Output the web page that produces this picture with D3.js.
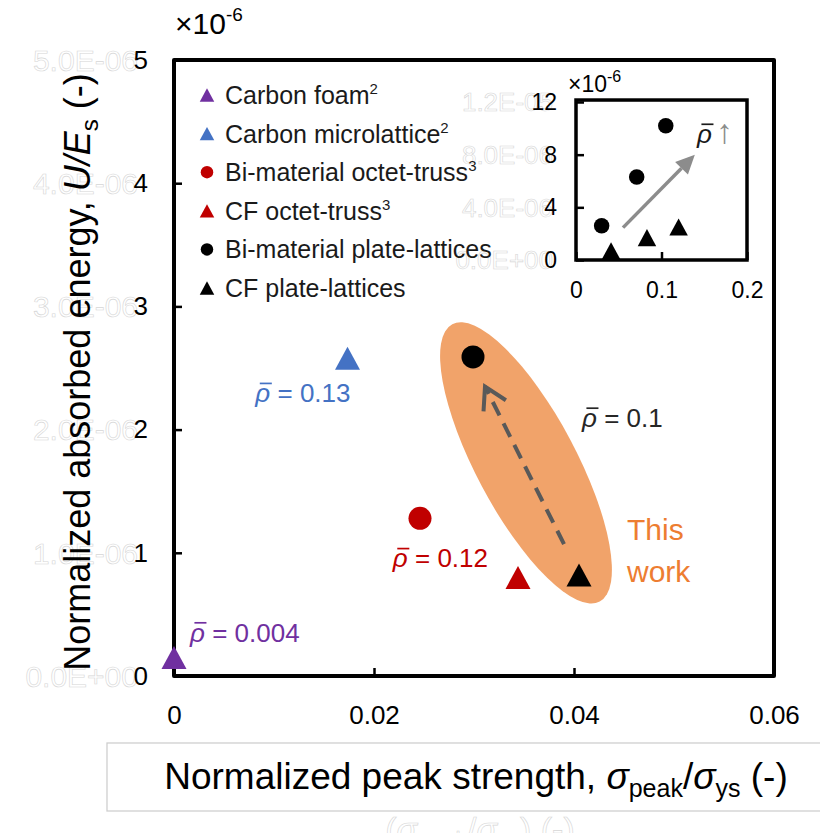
<!DOCTYPE html>
<html>
<head>
<meta charset="utf-8">
<script src="https://cdn.jsdelivr.net/npm/d3@7"></script>
<style>
  body { margin: 0; background: #fff; }
  svg { display: block; }
  text { font-family: "Liberation Sans", Arial, sans-serif; }
</style>
</head>
<body>
<svg id="chart" width="820" height="833"></svg>
<script>
// ---- Data ---------------------------------------------------------------
// Main plot: normalized peak strength vs. normalized absorbed energy (×10^-6)
const seriesNames   = ["Carbon foam", "Carbon microlattice", "Bi-material octet-truss",
                       "CF octet-truss", "Bi-material plate-lattices", "CF plate-lattices"];
const seriesRefs    = ["2", "2", "3", "3", "", ""];
const seriesColors  = ["#7030A0", "#4472C4", "#C00000", "#C00000", "#000000", "#000000"];
const seriesShapes  = ["triangle", "triangle", "circle", "triangle", "circle", "triangle"];
const peakStrength  = [0.0, 0.01735, 0.0246, 0.0344, 0.0299, 0.0405];
const absorbedEnergy = [0.15, 2.58, 1.28, 0.80, 2.59, 0.82];

// Relative-density annotations (series index they belong to)
const densityText   = ["0.004", "0.13", "0.12", "0.1"];
const densitySeries = [0, 1, 2, 4];
const densityColors = ["#7030A0", "#4472C4", "#C00000", "#262626"];

// Inset: plate-lattices at several relative densities (y ×10^-6)
const insetBiX  = [0.030, 0.071, 0.105];
const insetBiY  = [2.6, 6.3, 10.2];
const insetCfX  = [0.041, 0.083, 0.120];
const insetCfY  = [0.7, 1.7, 2.5];

// Axis ticks
const xTicks = [0, 0.02, 0.04, 0.06];
const yTicks = [0, 1, 2, 3, 4, 5];
const yGhostLabels = ["0.0E+00", "1.0E-06", "2.0E-06", "3.0E-06", "4.0E-06", "5.0E-06"];
const insetXTicks = [0, 0.1, 0.2];
const insetYTicks = [0, 4, 8, 12];
const insetGhostLabels = ["0.0E+00", "4.0E-06", "8.0E-06", "1.2E-05"];

// ---- Setup --------------------------------------------------------------
const svg = d3.select("#chart");
const FONT = 26;

const x = d3.scaleLinear().domain([0, 0.06]).range([174, 774]);
const y = d3.scaleLinear().domain([0, 5]).range([676, 60]);

const ix = d3.scaleLinear().domain([0, 0.2]).range([576, 747]);
const iy = d3.scaleLinear().domain([0, 12]).range([260, 102]);

// Triangle marker centred on its bounding box
const triangle = {
  draw(ctx, size) {
    const w = Math.sqrt(size), h = w * 0.92;
    ctx.moveTo(0, -h / 2);
    ctx.lineTo(w / 2, h / 2);
    ctx.lineTo(-w / 2, h / 2);
    ctx.closePath();
  }
};
function markerPath(shape, w) {
  return shape === "circle"
    ? d3.symbol().type(d3.symbolCircle).size(Math.PI * (w / 2) * (w / 2))()
    : d3.symbol().type(triangle).size(w * w)();
}

// Draws the bar over an italic rho that is the first character of a text
function rhoBar(textSel, parent, color) {
  textSel.each(function () {
    const node = this;
    const fs = parseFloat(d3.select(node).attr("font-size"));
    const s = node.getStartPositionOfChar(0), e = node.getEndPositionOfChar(0);
    parent.append("line")
      .attr("x1", s.x + 0.17 * fs).attr("x2", e.x + 0.06 * fs)
      .attr("y1", s.y - 0.72 * fs).attr("y2", s.y - 0.72 * fs)
      .attr("stroke", color || d3.select(node).attr("fill"))
      .attr("stroke-width", Math.max(1.4, fs * 0.065));
  });
}

// ---- Grey label box under the x axis ---------------------------------------
svg.append("rect")
  .attr("x", 107).attr("y", 743).attr("width", 730).attr("height", 68)
  .attr("fill", "none").attr("stroke", "#cfcfcf").attr("stroke-width", 1.3);

// Hidden secondary labels (outlined, white fill)
const ghost = g => g.attr("fill", "#fff").attr("stroke", "#d6d6d6").attr("stroke-width", 0.6);

svg.append("g").selectAll("text").data(yTicks).join("text")
  .attr("x", 138).attr("y", d => y(d)).attr("dy", "0.36em")
  .attr("text-anchor", "end").attr("font-size", 30)
  .text((d, i) => yGhostLabels[i]).call(ghost);

svg.append("g").selectAll("text").data(insetYTicks).join("text")
  .attr("x", 553).attr("y", d => iy(d)).attr("dy", "0.36em")
  .attr("text-anchor", "end").attr("font-size", 26)
  .text((d, i) => insetGhostLabels[i]).call(ghost);

const ghostX = svg.append("text").attr("x", 480).attr("y", 841)
  .attr("text-anchor", "middle").attr("font-size", 34).call(ghost);
ghostX.append("tspan").text("(");
ghostX.append("tspan").attr("font-style", "italic").text("σ");
ghostX.append("tspan").attr("font-size", 23).attr("dy", 8).text("peak");
ghostX.append("tspan").attr("dy", -8).text("/");
ghostX.append("tspan").attr("font-style", "italic").text("σ");
ghostX.append("tspan").attr("font-size", 23).attr("dy", 8).text("ys");
ghostX.append("tspan").attr("dy", -8).text(") (-)");

// ---- Main axes ------------------------------------------------------------
const xAxis = svg.append("g").attr("transform", `translate(0,${y(0)})`)
  .call(d3.axisBottom(x).tickValues(xTicks).tickSize(-8).tickPadding(30)
        .tickFormat(d => d === 0 ? "0" : d3.format(".2f")(d)));
const yAxis = svg.append("g").attr("transform", `translate(${x(0)},0)`)
  .call(d3.axisLeft(y).tickValues(yTicks).tickSize(-8).tickPadding(26)
        .tickFormat(d3.format("d")));
[xAxis, yAxis].forEach(a => {
  a.select(".domain").remove();
  a.selectAll(".tick line").attr("stroke", "#000").attr("stroke-width", 2.5);
  a.selectAll(".tick text").attr("font-size", FONT).attr("fill", "#000")
    .attr("font-family", "Liberation Sans, Arial, sans-serif");
});

// Plot frame
svg.append("rect")
  .attr("x", x(0)).attr("y", y(5))
  .attr("width", x(0.06) - x(0)).attr("height", y(0) - y(5))
  .attr("fill", "none").attr("stroke", "#000").attr("stroke-width", 4)
  .attr("stroke-linejoin", "round");

// ×10^-6 multiplier
const mult = svg.append("text").attr("x", 175).attr("y", 34).attr("font-size", 30).attr("fill", "#000");
mult.append("tspan").text("×10");
mult.append("tspan").attr("font-size", 19).attr("dy", -13).text("-6");

// Axis titles
const yTitle = svg.append("text")
  .attr("transform", "translate(90,372) rotate(-90)")
  .attr("text-anchor", "middle").attr("font-size", 36).attr("fill", "#000");
yTitle.append("tspan").text("Normalized absorbed energy, ");
yTitle.append("tspan").attr("font-style", "italic").text("U/E");
yTitle.append("tspan").attr("font-size", 24).attr("dy", 8).text("s");
yTitle.append("tspan").attr("dy", -8).text(" (-)");

const xTitle = svg.append("text")
  .attr("x", 476).attr("y", 789)
  .attr("text-anchor", "middle").attr("font-size", 37).attr("fill", "#000");
xTitle.append("tspan").text("Normalized peak strength, ");
xTitle.append("tspan").attr("font-style", "italic").text("σ");
xTitle.append("tspan").attr("font-size", 25).attr("dy", 8).text("peak");
xTitle.append("tspan").attr("dy", -8).text("/");
xTitle.append("tspan").attr("font-style", "italic").text("σ");
xTitle.append("tspan").attr("font-size", 25).attr("dy", 8).text("ys");
xTitle.append("tspan").attr("dy", -8).text(" (-)");

// ---- "This work" region -------------------------------------------------------
const ellCx = 0.0352, ellCy = 1.73;
svg.append("ellipse")
  .attr("transform", `translate(${x(ellCx)},${y(ellCy)}) rotate(62)`)
  .attr("rx", 157).attr("ry", 50)
  .attr("fill", "#F1A36A");

// Dashed arrow from CF plate-lattice towards bi-material plate-lattice
const arrowFrom = [0.0390, 1.07], arrowTo = [0.0311, 2.35];
const ax0 = x(arrowFrom[0]), ay0 = y(arrowFrom[1]);
const ax1 = x(arrowTo[0]),   ay1 = y(arrowTo[1]);
svg.append("line")
  .attr("x1", ax0).attr("y1", ay0).attr("x2", ax1).attr("y2", ay1)
  .attr("stroke", "#595959").attr("stroke-width", 4)
  .attr("stroke-dasharray", "15,9");
{
  const ang = Math.atan2(ay0 - ay1, ax0 - ax1), len = 25, half = Math.PI / 6;
  const p1 = [ax1 + len * Math.cos(ang + half), ay1 + len * Math.sin(ang + half)];
  const p2 = [ax1 + len * Math.cos(ang - half), ay1 + len * Math.sin(ang - half)];
  svg.append("path")
    .attr("d", `M${p1}L${ax1},${ay1}L${p2}`)
    .attr("fill", "none").attr("stroke", "#595959").attr("stroke-width", 4)
    .attr("stroke-linejoin", "miter");
}

const tw = svg.append("text").attr("font-size", 30).attr("fill", "#ED7D31");
tw.append("tspan").attr("x", 627).attr("y", 540).text("This");
tw.append("tspan").attr("x", 627).attr("y", 582).text("work");

// ---- Data points --------------------------------------------------------------
svg.append("g").selectAll("path").data(seriesNames).join("path")
  .attr("transform", (d, i) => `translate(${x(peakStrength[i])},${y(absorbedEnergy[i])})`)
  .attr("d", (d, i) => markerPath(seriesShapes[i], seriesShapes[i] === "circle" ? 23 : 25))
  .attr("fill", (d, i) => seriesColors[i]);

// Relative density labels
const labelOffsets = [[16, -16], [3, 44], [68, 49], [109, 70]]; // [dx, dy] of text end/start
const labelAnchors = ["start", "end", "end", "start"];
const labG = svg.append("g");
const lab = labG.selectAll("text").data(densityText).join("text")
  .attr("x", (d, i) => x(peakStrength[densitySeries[i]]) + labelOffsets[i][0])
  .attr("y", (d, i) => y(absorbedEnergy[densitySeries[i]]) + labelOffsets[i][1])
  .attr("text-anchor", (d, i) => labelAnchors[i])
  .attr("font-size", 26)
  .attr("fill", (d, i) => densityColors[i]);
lab.append("tspan").attr("font-style", "italic").text("ρ");
lab.append("tspan").text(d => " = " + d);
rhoBar(lab, labG);

// ---- Legend ---------------------------------------------------------------------
const legend = svg.append("g").selectAll("g").data(seriesNames).join("g")
  .attr("transform", (d, i) => `translate(207,${95 + i * 38.6})`);
legend.append("path")
  .attr("d", (d, i) => markerPath(seriesShapes[i], seriesShapes[i] === "circle" ? 12.5 : 14.5))
  .attr("fill", (d, i) => seriesColors[i]);
const lt = legend.append("text").attr("x", 18).attr("y", 9)
  .attr("font-size", 25).attr("fill", "#1a1a1a");
lt.append("tspan").text(d => d);
lt.append("tspan").attr("font-size", 15).attr("dy", -10).text((d, i) => seriesRefs[i]);

// ---- Inset ------------------------------------------------------------------
const inset = svg.append("g");
inset.append("rect").attr("x", ix(0)).attr("y", iy(12.15))
  .attr("width", ix(0.2) - ix(0)).attr("height", iy(0) - iy(12.15))
  .attr("fill", "#fff");

const ixAxis = inset.append("g").attr("transform", `translate(0,${iy(0)})`)
  .call(d3.axisBottom(ix).tickValues(insetXTicks).tickSize(-8).tickPadding(22)
        .tickFormat(d => d === 0 ? "0" : d3.format(".1f")(d)));
const iyAxis = inset.append("g").attr("transform", `translate(${ix(0)},0)`)
  .call(d3.axisLeft(iy).tickValues(insetYTicks).tickSize(-8).tickPadding(19)
        .tickFormat(d3.format("d")));
[ixAxis, iyAxis].forEach(a => {
  a.select(".domain").remove();
  a.selectAll(".tick line").attr("stroke", "#000").attr("stroke-width", 2.5);
  a.selectAll(".tick text").attr("font-size", 23).attr("fill", "#000")
    .attr("font-family", "Liberation Sans, Arial, sans-serif");
});

// Inset arrow (density increasing)
const iaFrom = [0.055, 2.46], iaTo = [0.139, 8.0];
{
  const x0 = ix(iaFrom[0]), y0 = iy(iaFrom[1]), x1 = ix(iaTo[0]), y1 = iy(iaTo[1]);
  const ang = Math.atan2(y1 - y0, x1 - x0), head = 19, hw = 9;
  const bx = x1 - head * Math.cos(ang), by = y1 - head * Math.sin(ang);
  inset.append("line").attr("x1", x0).attr("y1", y0).attr("x2", bx).attr("y2", by)
    .attr("stroke", "#8c8c8c").attr("stroke-width", 3.5);
  inset.append("path")
    .attr("d", `M${x1},${y1}L${bx + hw * Math.sin(ang)},${by - hw * Math.cos(ang)}L${bx - hw * Math.sin(ang)},${by + hw * Math.cos(ang)}Z`)
    .attr("fill", "#8c8c8c");
}

inset.append("g").selectAll("path").data(insetBiX).join("path")
  .attr("transform", (d, i) => `translate(${ix(d)},${iy(insetBiY[i])})`)
  .attr("d", markerPath("circle", 15.5)).attr("fill", "#000");
inset.append("g").selectAll("path").data(insetCfX).join("path")
  .attr("transform", (d, i) => `translate(${ix(d)},${iy(insetCfY[i])})`)
  .attr("d", markerPath("triangle", 18.5)).attr("fill", "#000");

inset.append("rect").attr("x", ix(0)).attr("y", iy(12.15))
  .attr("width", ix(0.2) - ix(0)).attr("height", iy(0) - iy(12.15))
  .attr("fill", "none").attr("stroke", "#000").attr("stroke-width", 3.5);

const ilab = inset.append("text").attr("x", 697).attr("y", 143).attr("font-size", 26).attr("fill", "#1a1a1a");
ilab.append("tspan").attr("font-style", "italic").text("ρ");
ilab.append("tspan").attr("fill", "#8c8c8c").attr("font-size", 34).attr("dx", 4).text("↑");
rhoBar(ilab, inset, "#1a1a1a");

const imult = inset.append("text").attr("x", 568).attr("y", 92).attr("font-size", 23).attr("fill", "#000");
imult.append("tspan").text("×10");
imult.append("tspan").attr("font-size", 16).attr("dy", -10).text("-6");
</script>
</body>
</html>
